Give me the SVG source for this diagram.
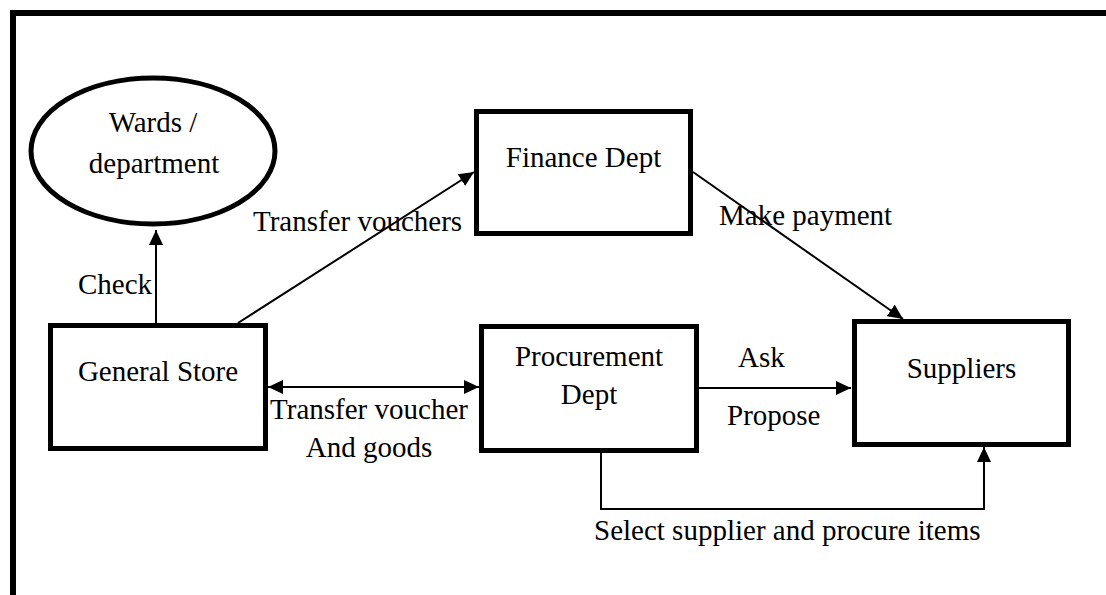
<svg xmlns="http://www.w3.org/2000/svg" width="1106" height="595" viewBox="0 0 1106 595">
<style>
  .node { fill: #fff; stroke: #000; stroke-width: 5; }
  .conn { fill: none; stroke: #000; stroke-width: 2; }
  text { font-family: "Liberation Serif", "Times New Roman", serif; font-size: 29px; fill: #000; }
  .c { text-anchor: middle; }
</style>
<defs>
  <marker id="ah" markerWidth="15" markerHeight="14" refX="15" refY="7" orient="auto-start-reverse" markerUnits="userSpaceOnUse">
    <path d="M0,0 L15,7 L0,14 z" fill="#000"/>
  </marker>
</defs>
<rect x="0" y="0" width="1106" height="595" fill="#fff"/>
<path d="M13 595 V13 H1106" fill="none" stroke="#000" stroke-width="6"/>

<g id="connectors">
  <line class="conn" x1="156" y1="323" x2="156" y2="230" marker-end="url(#ah)"/>
  <line class="conn" x1="238" y1="323" x2="474" y2="172" marker-end="url(#ah)"/>
  <line class="conn" x1="693" y1="172" x2="903" y2="319" marker-end="url(#ah)"/>
  <line class="conn" x1="268" y1="387" x2="479" y2="387" marker-start="url(#ah)" marker-end="url(#ah)"/>
  <line class="conn" x1="699" y1="388" x2="851" y2="388" marker-end="url(#ah)"/>
  <path class="conn" d="M601 453 V509 H984 V447" marker-end="url(#ah)"/>
  <text x="78" y="294">Check</text>
  <text x="253" y="231">Transfer vouchers</text>
  <text x="719" y="225">Make payment</text>
  <text x="369" y="419" class="c">Transfer voucher</text>
  <text x="369" y="457" class="c">And goods</text>
  <text x="738" y="367">Ask</text>
  <text x="727" y="425">Propose</text>
  <text x="594" y="540">Select supplier and procure items</text>
</g>

<g id="wards">
  <ellipse class="node" cx="153" cy="151" rx="122" ry="73"/>
  <text x="153" y="132" class="c">Wards /</text>
  <text x="154" y="173" class="c">department</text>
</g>
<g id="finance">
  <rect class="node" x="476.5" y="111.5" width="214" height="122"/>
  <text x="583.5" y="167" class="c">Finance Dept</text>
</g>
<g id="general-store">
  <rect class="node" x="50.5" y="325.5" width="215" height="123"/>
  <text x="158" y="381" class="c">General Store</text>
</g>
<g id="procurement">
  <rect class="node" x="481.5" y="326.5" width="215" height="124"/>
  <text x="589" y="366" class="c">Procurement</text>
  <text x="589" y="404" class="c">Dept</text>
</g>
<g id="suppliers">
  <rect class="node" x="854.5" y="321.5" width="214" height="123"/>
  <text x="961.5" y="378" class="c">Suppliers</text>
</g>
</svg>
